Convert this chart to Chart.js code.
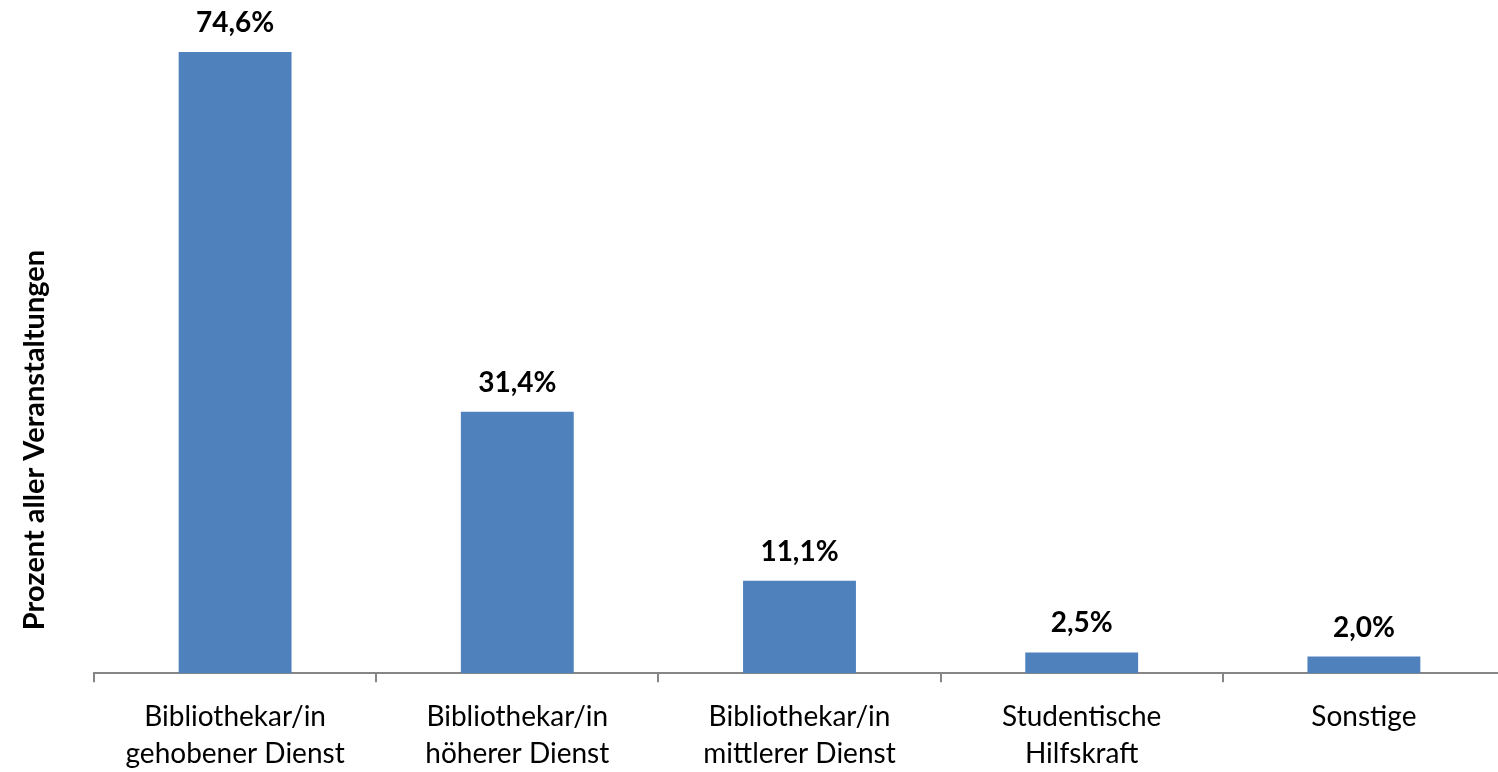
<!DOCTYPE html>
<html>
<head>
<meta charset="utf-8">
<script src="https://cdn.jsdelivr.net/npm/chart.js@4/dist/chart.umd.min.js"></script>
<style>
html, body { margin: 0; padding: 0; background: #fff; overflow: hidden; }
#wrap { width: 1505px; height: 789px; }
</style>
</head>
<body>
<div id="wrap"><canvas id="myChart"></canvas></div>
<script>
// Kategorien und Werte (Prozent)
var categories = [
	['Bibliothekar/in', 'gehobener Dienst'],
	['Bibliothekar/in', 'höherer Dienst'],
	['Bibliothekar/in', 'mittlerer Dienst'],
	['Studentische', 'Hilfskraft'],
	['Sonstige']
];
var values = [74.6, 31.4, 11.1, 2.5, 2.0];
var valueLabels = ['74,6%', '31,4%', '11,1%', '2,5%', '2,0%'];
var yTitle = 'Prozent aller Veranstaltungen';

var FONT = 'Lato, "Open Sans", sans-serif';

/* Werte über den Balken + Achsentitel */
var labelPlugin = {
	id: 'labels',
	afterDatasetsDraw: function(chart) {
		var ctx = chart.ctx;
		var meta = chart.getDatasetMeta(0);
		ctx.save();
		ctx.fillStyle = '#000';
		ctx.font = 'bold 28px ' + FONT;
		ctx.textAlign = 'center';
		ctx.textBaseline = 'alphabetic';
		meta.data.forEach(function(bar, i) {
			ctx.fillText(valueLabels[i], bar.x, bar.y - 20);
		});
		// y title
		ctx.translate(35, 440);
		ctx.rotate(-Math.PI / 2);
		ctx.textBaseline = 'middle';
		ctx.font = 'bold 29px ' + FONT;
		ctx.fillText(yTitle, 0, 0);
		ctx.restore();
	}
};

var ctx = document.getElementById('myChart').getContext('2d');
var config = {
	type: 'bar',
	data: {
		labels: categories,
		datasets: [{
			data: values,
			backgroundColor: '#4f81bd',
			barPercentage: 0.4,
			categoryPercentage: 1
		}]
	},
	options: {
		responsive: true,
		maintainAspectRatio: false,
		animation: false,
		layout: { padding: { left: 94, right: 0, top: 7, bottom: 0 } },
		plugins: {
			legend: { display: false },
			tooltip: { enabled: false }
		},
		scales: {
			x: {
				offset: true,
				grid: {
					offset: true,
					drawOnChartArea: false,
					color: '#868686',
					lineWidth: 2,
					tickLength: 9
				},
				border: { color: '#868686', width: 2 },
				ticks: {
					color: '#000',
					font: { family: FONT, size: 28, lineHeight: 1.3 },
					padding: 17,
					maxRotation: 0,
					autoSkip: false
				}
			},
			y: {
				display: false,
				min: 0,
				max: 80
			}
		}
	},
	plugins: [labelPlugin]
};

var myNewChart = new Chart(ctx, config);
</script>
</body>
</html>
